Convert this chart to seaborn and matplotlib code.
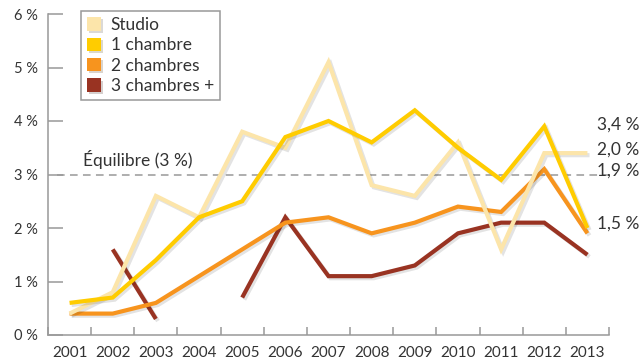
import numpy as np
import pandas as pd
import matplotlib
matplotlib.use("Agg")
import matplotlib.pyplot as plt
import matplotlib.patches as mpatches
import matplotlib.patheffects as pe
import seaborn as sns

# data (%)
years = list(range(2001, 2014))
studio = [0.4, 0.8, 2.6, 2.2, 3.8, 3.5, 5.1, 2.8, 2.6, 3.6, 1.6, 3.4, 3.4]
une_ch = [0.6, 0.7, 1.4, 2.2, 2.5, 3.7, 4.0, 3.6, 4.2, 3.5, 2.9, 3.9, 2.0]
deux_ch = [0.4, 0.4, 0.6, 1.1, 1.6, 2.1, 2.2, 1.9, 2.1, 2.4, 2.3, 3.1, 1.9]
trois_ch = [np.nan, 1.6, 0.3, np.nan, 0.7, 2.2, 1.1, 1.1, 1.3, 1.9, 2.1, 2.1, 1.5]
series_names = ["Studio", "1 chambre", "2 chambres", "3 chambres +"]
end_labels = ["3,4 %", "2,0 %", "1,9 %", "1,5 %"]
end_label_y = [3.93, 3.46, 3.07, 2.09]
ytick_labels = ["0 %", "1 %", "2 %", "3 %", "4 %", "5 %", "6 %"]
equilibre = 3.0

colors = {"Studio": "#FCE5AA", "1 chambre": "#FFCC00",
          "2 chambres": "#F7941E", "3 chambres +": "#993322"}

# long table, with a segment id so gaps stay gaps
rows = []
for name, vals in zip(series_names, [studio, une_ch, deux_ch, trois_ch]):
    seg = 0
    for y, v in zip(years, vals):
        if np.isnan(v):
            seg += 1
            continue
        rows.append({"Année": y, "Taux": v, "Type": name, "seg": f"{name}_{seg}"})
df = pd.DataFrame(rows)

sns.set_theme(style="white")
plt.rcParams["font.family"] = ["Lato", "DejaVu Sans"]

fig = plt.figure(figsize=(6.42, 3.6), dpi=100)
ax = fig.add_axes([48 / 642, 25 / 360, 561 / 642, 321 / 360])

ax.axhline(equilibre, xmin=0.016, xmax=1.0, color="#999999", lw=1.1,
           ls=(0, (5, 3.5)), zorder=1)

shadow = [pe.SimpleLineShadow(offset=(1.5, -1.5), shadow_color="k", alpha=0.12),
          pe.Normal()]
sns.lineplot(data=df, x="Année", y="Taux", hue="Type", units="seg",
             estimator=None, sort=True,
             hue_order=["3 chambres +", "2 chambres", "Studio", "1 chambre"],
             palette=colors, lw=3.0, legend=False, ax=ax,
             path_effects=shadow, solid_joinstyle="miter", solid_capstyle="butt")

ax.set_xlim(2000.5, 2013.5)
ax.set_ylim(0, 6)
ax.set_xlabel("")
ax.set_ylabel("")

ax.set_xticks(years)
ax.set_xticklabels([str(y) for y in years])
ax.set_xticks(np.arange(2000.5, 2014, 1.0), minor=True)
ax.tick_params(axis="x", which="major", length=0, pad=8, labelsize=11,
               labelcolor="#333333")
ax.tick_params(axis="x", which="minor", direction="in", length=6, width=1.1,
               color="#999999", bottom=True)
ax.set_yticks(range(7))
ax.set_yticklabels(ytick_labels)
ax.tick_params(axis="y", direction="in", length=11, width=1.1, color="#999999",
               pad=7, labelsize=10.5, labelcolor="#333333", left=True)

for s in ["top", "right"]:
    ax.spines[s].set_visible(False)
for s in ["left", "bottom"]:
    ax.spines[s].set_color("#999999")
    ax.spines[s].set_linewidth(1.1)

ax.text(2001.31, 3.1, "Équilibre (3 %)", fontsize=12.5, color="#333333",
        va="bottom", ha="left")
for lab, yl in zip(end_labels, end_label_y):
    ax.text(2013.22, yl, lab, fontsize=12.5, color="#333333", va="center",
            ha="left", clip_on=False)

handles = [mpatches.Patch(facecolor=colors[n], edgecolor="none", label=n,
                          path_effects=[pe.SimplePatchShadow(offset=(1.5, -1.5),
                                                             alpha=0.2),
                                        pe.Normal()])
           for n in series_names]
leg = ax.legend(handles=handles, loc="upper left",
                bbox_to_anchor=(81 / 642, 1 - 11 / 360),
                bbox_transform=fig.transFigure, borderaxespad=0,
                fontsize=12.5, frameon=True, fancybox=False, framealpha=1,
                edgecolor="#999999", handlelength=0.8, handleheight=0.8,
                handletextpad=0.55, labelspacing=0.25, borderpad=0.35)
leg.get_frame().set_linewidth(1.1)
for t in leg.get_texts():
    t.set_color("#333333")

fig.savefig("out.png", dpi=100)
